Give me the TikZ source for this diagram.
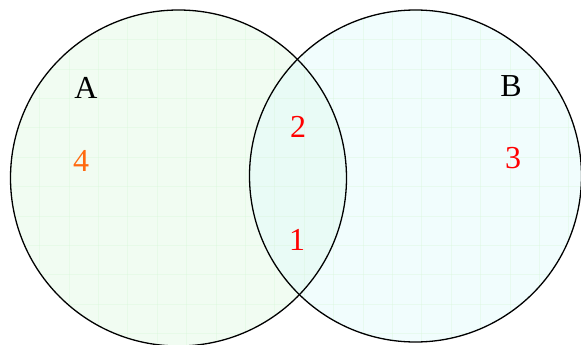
\documentclass[tikz,border=0pt]{standalone}
\usepackage{fontspec}
\setmainfont{Liberation Serif}
\usetikzlibrary{positioning}
\definecolor{FillA}{HTML}{E4FAE6}
\definecolor{FillB}{HTML}{E0FBFB}
\definecolor{GridTint}{HTML}{D6F5D6}
\definecolor{OrangeNum}{HTML}{FF6A10}
\definecolor{RedNum}{HTML}{FF0000}
\tikzset{
  setcircle/.style={circle, draw=black, line width=1.3pt, inner sep=0pt},
  setname/.style={font=\fontsize{32}{36}\selectfont, text=black},
  count/.style={font=\fontsize{32}{36}\selectfont, text=RedNum}
}
\begin{document}
\begin{tikzpicture}[x=1pt, y=-1pt]
  \useasboundingbox (0,0) rectangle (581,345);
  % the two sets
  \fill[FillA, opacity=0.5] (178.5,178) circle[radius=168];
  \fill[FillB, opacity=0.45] (415.5,176) circle[radius=166];
  \begin{scope}
    \clip (178.5,178) circle[radius=168] (415.5,176) circle[radius=166];
    \foreach \k in {0,...,20}{
      \draw[GridTint, line width=0.4pt, opacity=0.35] (10+29.4*\k,0) -- (10+29.4*\k,345);
      \draw[GridTint, line width=0.4pt, opacity=0.35] (0,10+29.4*\k) -- (581,10+29.4*\k);}
  \end{scope}
  \node[setcircle, minimum size=336pt] (setA) at (178.5,178) {};
  \node[setcircle, minimum size=332pt] (setB) at (415.5,176) {};
  % labels
  \node[setname] (nameA) at (86,88) {A};
  \node[setname] (nameB) at (511,86) {B};
  \node[count, text=OrangeNum] (onlyA) at (81,161) {4};
  \node[count] (bothtop) at (298,127) {2};
  \node[count] (bothbot) at (297,240) {1};
  \node[count] (onlyB) at (513,158) {3};
\end{tikzpicture}
\end{document}
